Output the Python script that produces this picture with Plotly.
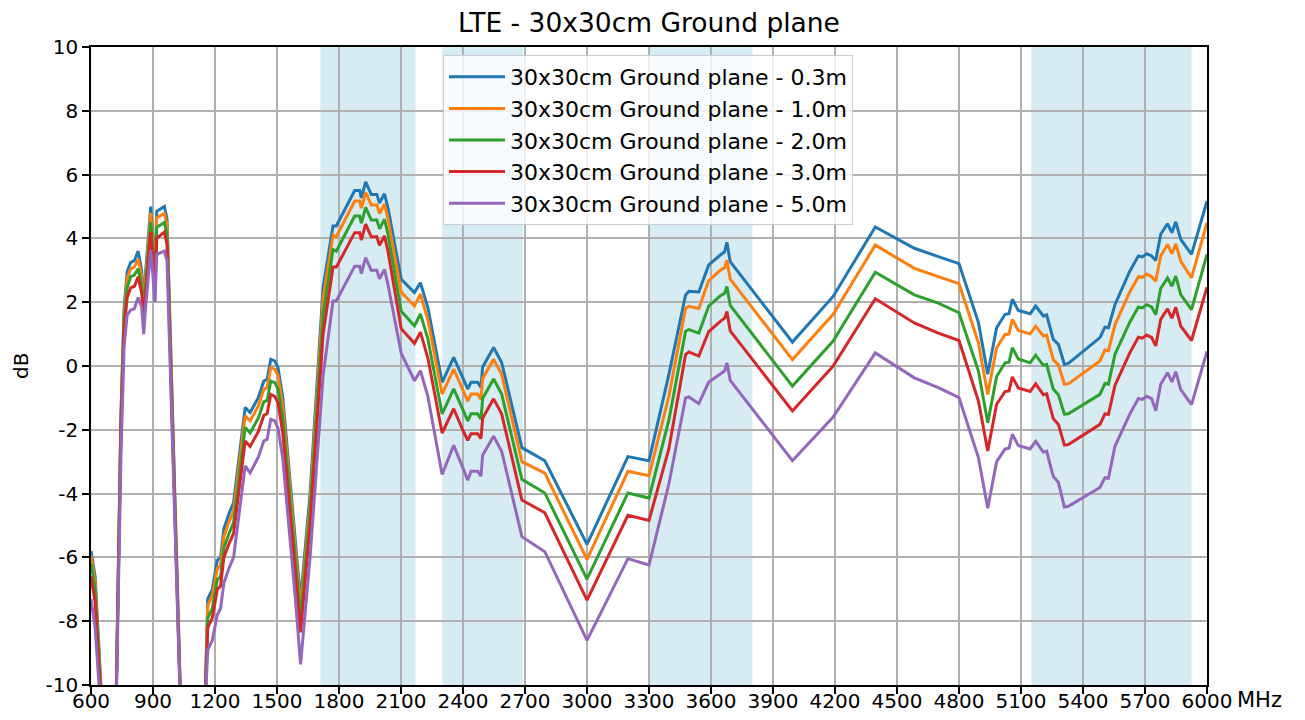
import plotly.graph_objects as go

freq = [600, 620, 660, 715, 745, 760, 775, 792, 810, 828, 845, 855, 865, 889, 910, 918, 955, 968, 1035, 1100,
        1150, 1165, 1187, 1211, 1227, 1243, 1267, 1290, 1346, 1370, 1410, 1436, 1452, 1470, 1489, 1505, 1528,
        1560, 1589, 1614, 1660, 1723, 1771, 1787, 1876, 1900, 1908, 1929, 1956, 1983, 1996, 2020, 2037, 2101,
        2165, 2194, 2230, 2299, 2355, 2403, 2423, 2439, 2471, 2487, 2495, 2548, 2587, 2685, 2796, 3000, 3198,
        3300, 3396, 3477, 3493, 3541, 3589, 3645, 3666, 3677, 3693, 3994, 4191, 4395, 4584, 4700, 4800, 4894,
        4939, 4982, 5023, 5042, 5058, 5087, 5144, 5171, 5208, 5224, 5256, 5281, 5310, 5329, 5482, 5506, 5523,
        5555, 5627, 5668, 5687, 5708, 5732, 5752, 5776, 5809, 5830, 5849, 5873, 5925, 6000]

gp_03 = [-5.8, -6.6, -11.5, -13, -1.5, 1.8, 2.95, 3.25, 3.3, 3.6, 3.0, 2.0, 3.0, 5.0, 3.0, 4.85, 5.0, 4.6, -10.8, -13,
         -11, -7.3, -7.0, -6.1, -6.0, -5.1, -4.64, -4.28, -1.3, -1.46, -0.99, -0.47, -0.42, 0.21, 0.16, -0.05, -0.99,
         -3.3, -5.5, -7.35, -4.0, 2.46, 4.39, 4.39, 5.5, 5.5, 5.27, 5.77, 5.38, 5.38, 5.11, 5.4, 4.96, 2.72,
         2.30, 2.61, 1.83, -0.51, 0.27, -0.46, -0.72, -0.51, -0.51, -0.67, -0.03, 0.58, 0.11, -2.56, -2.97, -5.59, -2.84,
         -2.97, -0.27, 2.23, 2.34, 2.32, 3.17, 3.48, 3.58, 3.88, 3.27, 0.75, 2.18, 4.36, 3.69, 3.43, 3.21, 1.36,
         -0.26, 1.2, 1.62, 1.64, 2.09, 1.74, 1.64, 1.88, 1.57, 1.6, 0.84, 0.68, 0.05, 0.08, 0.89, 1.22, 1.2,
         1.93, 2.98, 3.45, 3.42, 3.52, 3.45, 3.31, 4.13, 4.46, 4.18, 4.52, 3.97, 3.5, 5.17]

gp_10 = [-5.95, -6.8, -11.6, -13, -1.6, 1.6, 2.75, 3.05, 3.1, 3.35, 2.8, 1.85, 2.8, 4.8, 2.9, 4.65, 4.78, 4.4, -10.9, -13,
         -11, -7.5, -7.2, -6.35, -6.25, -5.35, -4.9, -4.55, -1.56, -1.72, -1.25, -0.73, -0.68, -0.05, -0.1, -0.3, -1.25,
         -3.55, -5.75, -7.6, -4.3, 2.1, 4.1, 4.05, 5.17, 5.17, 4.95, 5.44, 5.05, 5.05, 4.78, 5.07, 4.62, 2.32,
         1.88, 2.25, 1.45, -0.88, -0.1, -0.83, -1.1, -0.88, -0.88, -1.05, -0.4, 0.21, -0.26, -3.0, -3.36, -6.06, -3.3,
         -3.44, -0.95, 1.81, 1.87, 1.8, 2.68, 3.0, 3.08, 3.32, 2.72, 0.2, 1.62, 3.79, 3.06, 2.8, 2.58, 0.73,
         -0.89, 0.57, 0.99, 1.0, 1.46, 1.11, 1.01, 1.25, 0.94, 0.97, 0.2, 0.04, -0.57, -0.56, 0.16, 0.5, 0.48,
         1.3, 2.33, 2.8, 2.78, 2.88, 2.8, 2.66, 3.45, 3.81, 3.52, 3.83, 3.29, 2.76, 4.49]

gp_20 = [-6.2, -7.0, -11.7, -13, -1.8, 1.4, 2.45, 2.8, 2.85, 3.05, 2.55, 1.7, 2.55, 4.5, 2.7, 4.35, 4.5, 4.1, -11.0, -13,
         -11, -7.9, -7.6, -6.7, -6.6, -5.7, -5.27, -4.9, -1.93, -2.1, -1.63, -1.12, -1.08, -0.47, -0.52, -0.72, -1.65,
         -3.9, -6.1, -7.9, -4.6, 1.6, 3.65, 3.6, 4.7, 4.7, 4.48, 4.97, 4.58, 4.58, 4.3, 4.6, 4.14, 1.72,
         1.26, 1.63, 0.85, -1.5, -0.72, -1.45, -1.72, -1.5, -1.5, -1.67, -1.02, -0.41, -0.88, -3.55, -3.98, -6.68, -3.98,
         -4.14, -1.7, 1.09, 1.14, 1.03, 1.88, 2.2, 2.28, 2.49, 1.9, -0.63, 0.78, 2.94, 2.23, 1.97, 1.67, -0.16,
         -1.78, -0.33, 0.1, 0.12, 0.57, 0.22, 0.1, 0.34, 0.02, 0.05, -0.72, -0.9, -1.51, -1.5, -0.89, -0.55, -0.57,
         0.37, 1.38, 1.85, 1.82, 1.92, 1.85, 1.61, 2.43, 2.76, 2.5, 2.82, 2.24, 1.77, 3.5]

gp_30 = [-6.6, -7.4, -11.8, -13, -2.0, 1.1, 2.15, 2.45, 2.5, 2.8, 2.3, 1.5, 2.3, 4.2, 2.5, 4.0, 4.2, 3.8, -11.1, -13,
         -11, -8.2, -7.9, -7.0, -6.9, -6.0, -5.58, -5.25, -2.35, -2.52, -2.05, -1.55, -1.5, -0.89, -0.95, -1.15, -2.1,
         -4.3, -6.5, -8.35, -5.0, 1.0, 3.1, 3.1, 4.18, 4.18, 3.95, 4.45, 4.05, 4.05, 3.78, 4.08, 3.6, 1.17,
         0.71, 1.06, 0.25, -2.1, -1.34, -2.07, -2.33, -2.12, -2.12, -2.28, -1.64, -1.03, -1.5, -4.2, -4.6, -7.34, -4.68,
         -4.84, -2.6, 0.36, 0.44, 0.31, 1.08, 1.4, 1.5, 1.71, 1.1, -1.41, 0.0, 2.11, 1.35, 1.03, 0.8, -1.1,
         -2.66, -1.2, -0.8, -0.78, -0.34, -0.69, -0.8, -0.56, -0.9, -0.87, -1.65, -1.83, -2.48, -2.46, -1.83, -1.5, -1.52,
         -0.6, 0.42, 0.9, 0.87, 0.97, 0.9, 0.63, 1.46, 1.79, 1.5, 1.84, 1.25, 0.8, 2.47]

gp_50 = [-7.3, -8.2, -12.0, -13, -2.8, 0.6, 1.6, 1.75, 1.8, 2.15, 1.85, 1.0, 1.9, 3.65, 2.0, 3.5, 3.6, 3.3, -11.2, -13,
         -11, -8.9, -8.6, -7.8, -7.6, -6.8, -6.35, -6.0, -3.13, -3.35, -2.85, -2.35, -2.3, -1.67, -1.72, -1.95, -2.9,
         -5.1, -7.3, -9.35, -6.0, -0.3, 2.04, 2.04, 3.13, 3.13, 2.9, 3.4, 3.0, 3.0, 2.73, 3.03, 2.55, 0.4,
         -0.46, -0.15, -0.95, -3.4, -2.49, -3.25, -3.58, -3.3, -3.3, -3.45, -2.8, -2.2, -2.67, -5.35, -5.82, -8.6, -6.04,
         -6.24, -3.7, -1.0, -0.97, -1.18, -0.5, -0.25, -0.15, 0.1, -0.45, -2.97, -1.6, 0.41, -0.37, -0.68, -0.99, -2.87,
         -4.46, -3.0, -2.6, -2.58, -2.14, -2.49, -2.6, -2.36, -2.7, -2.67, -3.46, -3.65, -4.42, -4.4, -3.81, -3.5, -3.52,
         -2.51, -1.5, -1.02, -1.05, -0.95, -1.02, -1.4, -0.57, -0.21, -0.5, -0.18, -0.74, -1.21, 0.46]

series_names = ["30x30cm Ground plane - 0.3m", "30x30cm Ground plane - 1.0m", "30x30cm Ground plane - 2.0m",
                "30x30cm Ground plane - 3.0m", "30x30cm Ground plane - 5.0m"]
series_values = [gp_03, gp_10, gp_20, gp_30, gp_50]
colors = ["#1f77b4", "#ff7f0e", "#2ca02c", "#d62728", "#9467bd"]

bands = [(1710, 2170), (2300, 2690), (3300, 3800), (5150, 5925)]
x_ticks = list(range(600, 6001, 300))
y_ticks = list(range(-10, 11, 2))

FONT = "DejaVu Sans"
W, H = 1305, 720
L, R, T, B = 83, 106, 39, 43
PW = W - L - R
PH = H - T - B

fig = go.Figure()
for i, (name, vals, col) in enumerate(zip(series_names, series_values, colors)):
    fig.add_trace(go.Scatter(x=freq, y=vals, mode="lines", name=name,
                             line=dict(color=col, width=3), legendgroup=f"g{i}"))

for a, b in bands:
    fig.add_vrect(x0=a, x1=b, fillcolor="#add8e6", opacity=0.5, line_width=0, layer="below")

fig.update_layout(
    width=W, height=H,
    margin=dict(l=L, r=R, t=T, b=B),
    paper_bgcolor="white", plot_bgcolor="white",
    font=dict(family=FONT, size=20, color="black"),
    title=dict(text="LTE - 30x30cm Ground plane", x=(L + PW / 2) / W, xanchor="center",
               y=1 - 15 / H, yanchor="middle", font=dict(family=FONT, size=26.5, color="black")),
    showlegend=True,
    legend=dict(x=352 / PW, y=1 - 8 / PH, xanchor="left", yanchor="top",
                bgcolor="rgba(255,255,255,0.8)", bordercolor="#cccccc", borderwidth=1,
                font=dict(family=FONT, size=22, color="black"),
                itemwidth=56,
                traceorder="grouped", tracegroupgap=0),
)
fig.update_xaxes(range=[600, 6000], tickvals=x_ticks, ticktext=[str(t) for t in x_ticks],
                 showgrid=True, gridcolor="#b0b0b0", gridwidth=1.6,
                 showline=True, linecolor="black", linewidth=1.6, mirror=True,
                 ticks="outside", ticklen=7, tickwidth=1.5, tickcolor="black",
                 ticklabelstandoff=-10,
                 tickfont=dict(family=FONT, size=20), zeroline=False)
fig.update_yaxes(range=[-10, 10], tickvals=y_ticks, ticktext=[str(t) for t in y_ticks],
                 showgrid=True, gridcolor="#b0b0b0", gridwidth=1.6,
                 showline=True, linecolor="black", linewidth=1.6, mirror=True,
                 ticks="outside", ticklen=7, tickwidth=1.5, tickcolor="black",
                 tickfont=dict(family=FONT, size=20), zeroline=False)

fig.add_annotation(text="MHz", xref="paper", yref="paper", x=1 + 28 / PW, y=-15 / PH,
                   xanchor="left", yanchor="middle", showarrow=False, font=dict(family=FONT, size=21))
fig.add_annotation(text="dB", xref="paper", yref="paper", x=-(90 - 20) / PW, y=0.5,
                   xanchor="center", yanchor="middle", textangle=-90, showarrow=False,
                   font=dict(family=FONT, size=20))

fig.write_html("out.html")
